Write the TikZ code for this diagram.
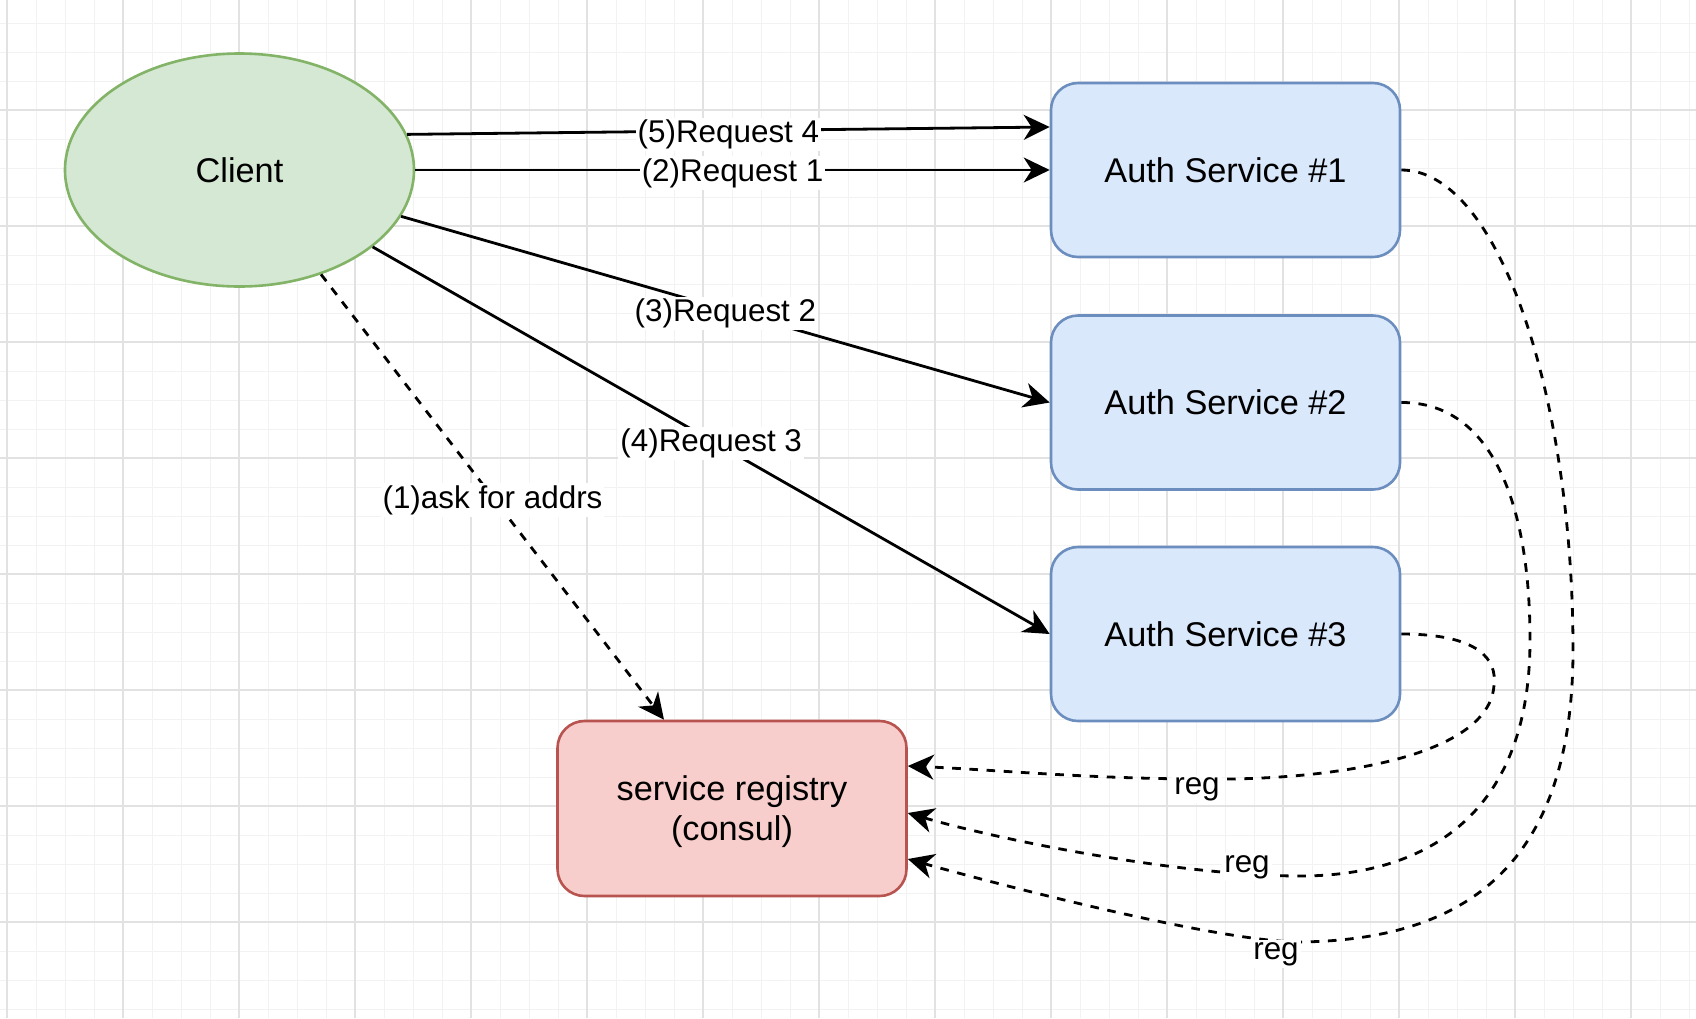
\documentclass[tikz,border=0pt]{standalone}
\usepackage{fontspec}
\setmainfont{Liberation Sans}
\usetikzlibrary{shapes.geometric,arrows.meta,calc}
\definecolor{gridminor}{HTML}{F2F2F2}
\definecolor{gridmajor}{HTML}{E2E2E2}
\definecolor{greenfill}{HTML}{D5E8D4}
\definecolor{greenline}{HTML}{82B366}
\definecolor{bluefill}{HTML}{DAE8FC}
\definecolor{blueline}{HTML}{6C8EBF}
\definecolor{redfill}{HTML}{F8CECC}
\definecolor{redline}{HTML}{B85450}
\begin{document}
\begin{tikzpicture}[x=0.5pt,y=-0.5pt,
  nodefont/.style={font=\fontsize{17.15pt}{20pt}\selectfont},
  lblfont/.style={font=\fontsize{15.7pt}{18pt}\selectfont},
  clientshape/.style={ellipse, draw=greenline, fill=greenfill, line width=1.3pt,
    minimum width=174.5pt, minimum height=116.5pt, inner sep=0pt, nodefont},
  svcbox/.style={rectangle, rounded corners=13.5pt, draw=blueline, fill=bluefill,
    line width=1.3pt, minimum width=174.5pt, minimum height=87pt, inner sep=0pt, nodefont},
  regbox/.style={rectangle, rounded corners=13.5pt, draw=redline, fill=redfill,
    line width=1.3pt, minimum width=174.5pt, minimum height=87.5pt, inner sep=0pt,
    align=center, nodefont},
  conn/.style={line width=1.4pt, -{Stealth[length=13pt,width=12.5pt,inset=4pt]}},
  dconn/.style={conn, dash pattern=on 4.3pt off 4.3pt},
  lbl/.style={fill=white, inner sep=1pt, lblfont, text=black},
  minorline/.style={draw=gridminor, line width=0.5pt},
  majorline/.style={draw=gridmajor, line width=0.6pt}
]
\useasboundingbox (0,0) rectangle (1696,1018);
\fill[white] (0,0) rectangle (1696,1018);
% grid
\foreach \x in {7,36,...,1696} \draw[minorline] (\x,0) -- (\x,1018);
\foreach \y in {23,52,...,1018} \draw[minorline] (0,\y) -- (1696,\y);
\foreach \x in {7,123,...,1696} \draw[majorline] (\x,0) -- (\x,1018);
\foreach \y in {110,226,...,1018} \draw[majorline] (0,\y) -- (1696,\y);

% nodes
\node[clientshape] (client) at (239.5,170) {Client};
\node[svcbox] (a1) at (1225.5,170) {Auth Service \#1};
\node[svcbox] (a2) at (1225.5,402.5) {Auth Service \#2};
\node[svcbox] (a3) at (1225.5,634) {Auth Service \#3};
\node[regbox] (reg) at (732,808.5) {\raisebox{-2.2pt}[\height][\depth]{\begin{tabular}{@{}c@{}}service registry\\(consul)\end{tabular}}};

% request connectors
\draw[conn] (client.12) -- node[lbl,yshift=-2pt] (l5) {(5)Request 4} ($(a1.west)+(0,-43)$);
\draw[conn] (client.east) -- node[lbl,yshift=-1.5pt] (l2) {(2)Request 1} (a1.west);
\draw[conn] (client.-16) -- node[lbl,yshift=-2pt] (l3) {(3)Request 2} (a2.west);
\draw[conn] (client.-30) -- node[lbl,yshift=-1.5pt] (l4) {(4)Request 3} (a3.west);
\draw[dconn] (client.-52) -- node[lbl,yshift=-1.5pt] (l1) {(1)ask for addrs} ($(reg.north)+(-68,0)$);

% registration connectors
\draw[dconn] (a3.east) .. controls (1480,634) and (1497,660) .. (1494,685)
  .. controls (1490,750) and (1360,777) .. (1230,779)
  .. controls (1100,780) and (1000,770) .. ($(reg.east)+(0,-42.5)$);
\draw[dconn] (a2.east) .. controls (1490,402) and (1530,500) .. (1530,640)
  .. controls (1530,820) and (1420,876) .. (1300,876)
  .. controls (1180,876) and (1000,840) .. ($(reg.east)+(0,4.5)$);
\draw[dconn] (a1.east) .. controls (1500,170) and (1573,400) .. (1573,650)
  .. controls (1573,880) and (1450,940) .. (1300,942)
  .. controls (1220,942) and (1000,885) .. ($(reg.east)+(0,50.5)$);

\node[lbl] (r3) at (1197,789) {reg};
\node[lbl] (r2) at (1247,867) {reg};
\node[lbl] (r1) at (1276,954) {reg};
\end{tikzpicture}
\end{document}
